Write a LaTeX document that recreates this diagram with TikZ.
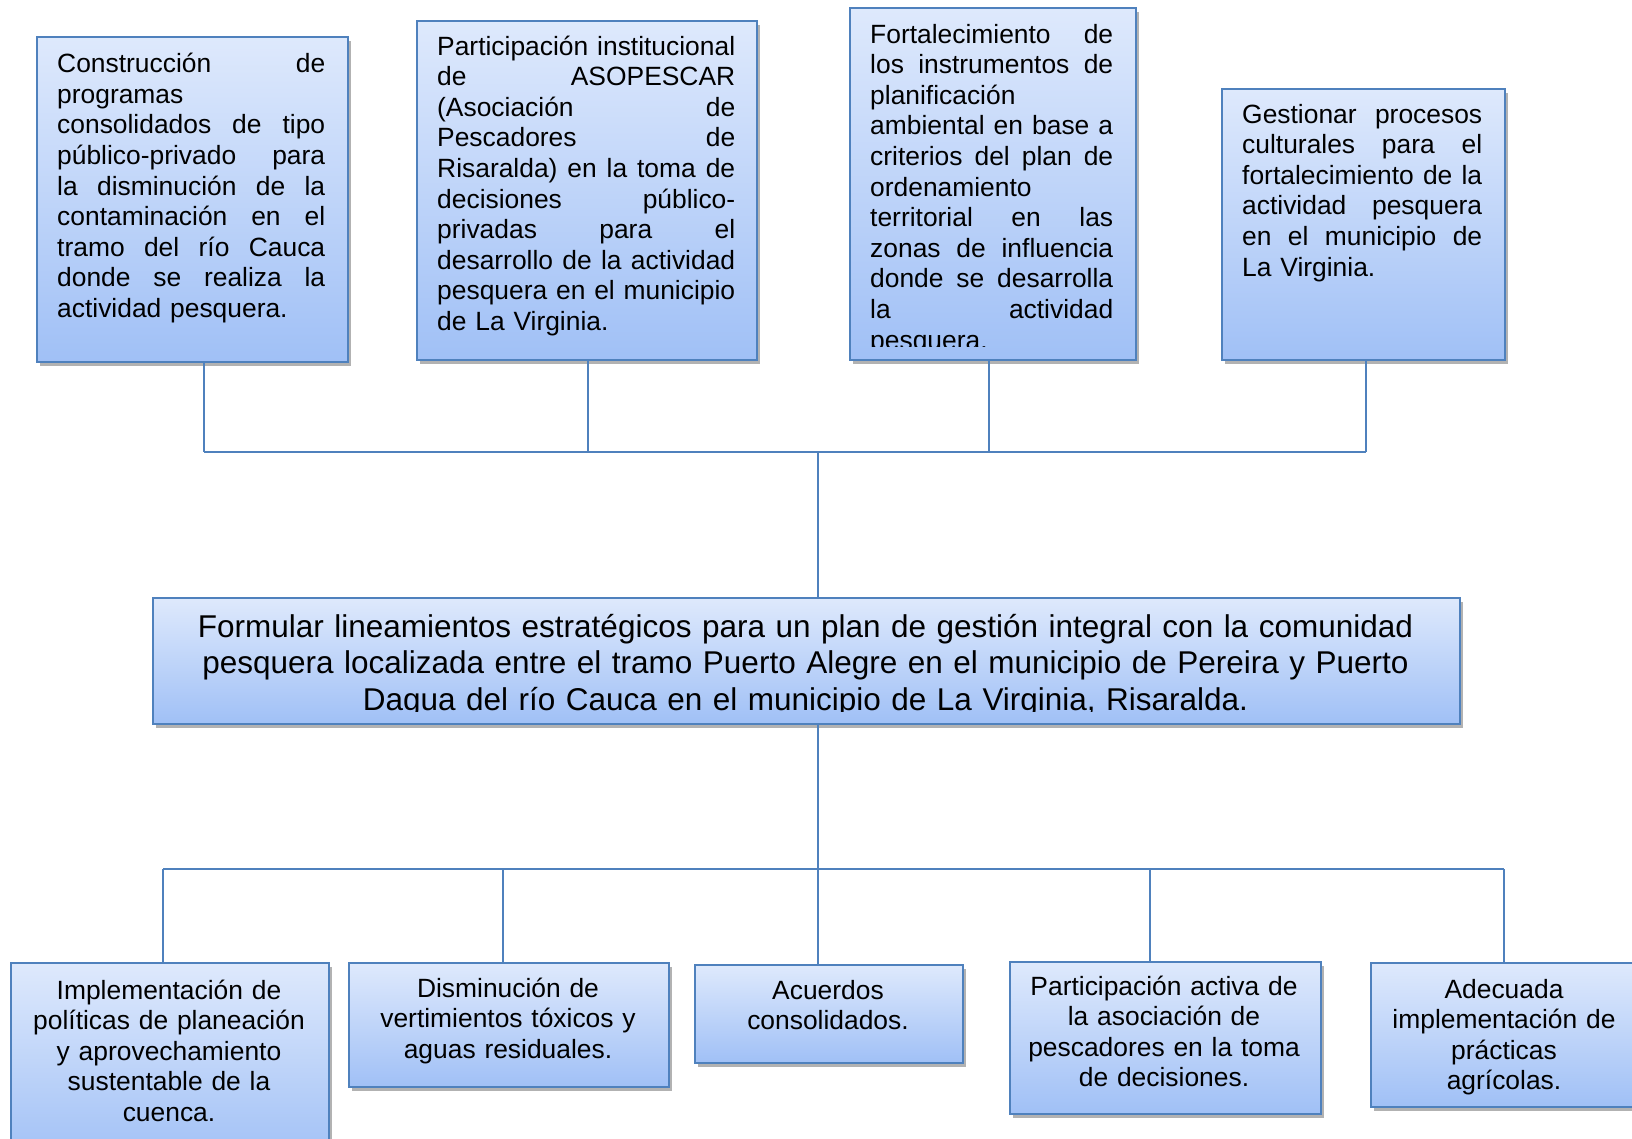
\documentclass[tikz,border=0pt]{standalone}
\usepackage{fontspec}
\setmainfont{Liberation Sans}
\usetikzlibrary{shadows}
\definecolor{bordc}{RGB}{79,129,189}
\definecolor{topc}{RGB}{222,233,252}
\definecolor{botc}{RGB}{160,192,246}
\newcommand\jl[1]{\makebox[\linewidth][s]{\spaceskip=0.278em plus 20em\relax #1}}
\begin{document}
\begin{tikzpicture}[x=1pt,y=-1pt,
  box/.style={draw=bordc, line width=2pt, top color=topc, bottom color=botc,
    inner sep=0pt, anchor=north west,
    drop shadow={shadow xshift=3pt, shadow yshift=-4pt, opacity=0.3, fill=black}},
  jtext/.style={font=\fontsize{26.4}{30.6}\selectfont, inner sep=0pt, anchor=base west, align=left},
  ctext/.style={font=\fontsize{26.4}{30.6}\selectfont, inner sep=0pt, anchor=base, align=center, text width=330pt},
  btext/.style={font=\fontsize{31.5}{36.5}\selectfont, inner sep=0pt, anchor=base, align=center, text width=1300pt},
  link/.style={draw=bordc, line width=1.8pt}]
\useasboundingbox (0,0) rectangle (1632,1138);
\fill[white] (0,0) rectangle (1632,1138);

% top boxes
\node[box, minimum width=311pt, minimum height=325pt] (t1) at (36,36) {};
\node[box, minimum width=340pt, minimum height=339pt] (t2) at (416,20) {};
\node[box, minimum width=286pt, minimum height=352pt] (t3) at (849,7) {};
\node[box, minimum width=283pt, minimum height=271pt] (t4) at (1221,88) {};

\node[jtext, text width=268pt] (t1x) at (57,72.7) {\jl{Construcción de}\\ programas\\ \jl{consolidados de tipo}\\ \jl{público-privado para}\\ \jl{la disminución de la}\\ \jl{contaminación en el}\\ \jl{tramo del río Cauca}\\ \jl{donde se realiza la}\\ actividad pesquera.};
\node[jtext, text width=298pt] (t2x) at (437,55) {\jl{Participación institucional}\\ \jl{de ASOPESCAR}\\ \jl{(Asociación de}\\ \jl{Pescadores de}\\ \jl{Risaralda) en la toma de}\\ \jl{decisiones público-}\\ \jl{privadas para el}\\ \jl{desarrollo de la actividad}\\ \jl{pesquera en el municipio}\\ de La Virginia.};
\begin{scope}
\clip (849,7) rectangle (1135,346);
\node[jtext, text width=243pt] (t3x) at (870,43) {\jl{Fortalecimiento de}\\ \jl{los instrumentos de}\\ planificación\\ \jl{ambiental en base a}\\ \jl{criterios del plan de}\\ ordenamiento\\ \jl{territorial en las}\\ \jl{zonas de influencia}\\ \jl{donde se desarrolla}\\ \jl{la actividad}\\ pesquera.};
\end{scope}
\node[jtext, text width=240pt] (t4x) at (1242,123) {\jl{Gestionar procesos}\\ \jl{culturales para el}\\ \jl{fortalecimiento de la}\\ \jl{actividad pesquera}\\ \jl{en el municipio de}\\ La Virginia.};

% center box
\node[box, minimum width=1307pt, minimum height=126pt] (c) at (152,597) {};
\begin{scope}
\clip (152,597) rectangle (1459,711);
\node[btext] (cx) at (805.5,637) {Formular lineamientos estratégicos para un plan de gestión integral con la comunidad\\ pesquera localizada entre el tramo Puerto Alegre en el municipio de Pereira y Puerto\\ Dagua del río Cauca en el municipio de La Virginia, Risaralda.};
\end{scope}

% bottom boxes
\node[box, minimum width=318pt, minimum height=200pt] (b1) at (10,962) {};
\node[box, minimum width=320pt, minimum height=124pt] (b2) at (348,962) {};
\node[box, minimum width=268pt, minimum height=98pt] (b3) at (694,964) {};
\node[box, minimum width=311pt, minimum height=152pt] (b4) at (1009,961) {};
\node[box, minimum width=270pt, minimum height=144pt] (b5) at (1370,962) {};

\node[ctext] (b1x) at (169,999) {Implementación de\\ políticas de planeación\\ y aprovechamiento\\ sustentable de la\\ cuenca.};
\node[ctext] (b2x) at (508,997) {Disminución de\\ vertimientos tóxicos y\\ aguas residuales.};
\node[ctext] (b3x) at (828,999) {Acuerdos\\ consolidados.};
\node[ctext] (b4x) at (1164,995) {Participación activa de\\ la asociación de\\ pescadores en la toma\\ de decisiones.};
\node[ctext] (b5x) at (1504,998) {Adecuada\\ implementación de\\ prácticas\\ agrícolas.};

% connectors top
\coordinate (u1) at (204,452);
\coordinate (u2) at (588,452);
\coordinate (u3) at (989,452);
\coordinate (u4) at (1366,452);
\coordinate (uh) at (818,452);
\draw[link] (u1 |- t1.south) -- (u1);
\draw[link] (u2 |- t2.south) -- (u2);
\draw[link] (u3 |- t3.south) -- (u3);
\draw[link] (u4 |- t4.south) -- (u4);
\draw[link] (u1) -- (u4);
\draw[link] (uh) -- (uh |- c.north);

% connectors bottom
\coordinate (lh) at (818,869);
\coordinate (l1) at (163,869);
\coordinate (l2) at (503,869);
\coordinate (l4) at (1150,869);
\coordinate (l5) at (1504,869);
\draw[link] (lh |- c.south) -- (lh);
\draw[link] (l1) -- (l5);
\draw[link] (l1) -- (l1 |- b1.north);
\draw[link] (l2) -- (l2 |- b2.north);
\draw[link] (lh) -- (lh |- b3.north);
\draw[link] (l4) -- (l4 |- b4.north);
\draw[link] (l5) -- (l5 |- b5.north);
\end{tikzpicture}
\end{document}
